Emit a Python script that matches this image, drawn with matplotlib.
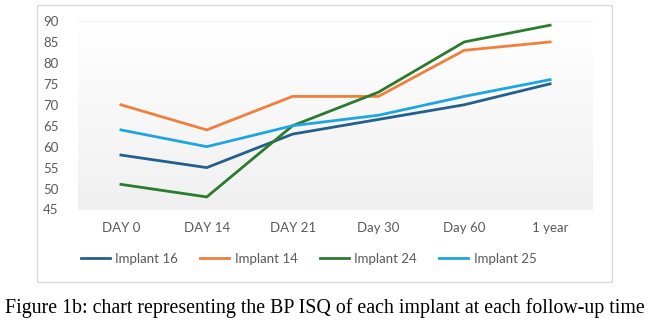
import numpy as np
import matplotlib
matplotlib.use("Agg")
import matplotlib.pyplot as plt
from matplotlib.patches import Rectangle

categories = ["DAY 0", "DAY 14", "DAY 21", "Day 30", "Day 60", "1 year"]
implant16 = [58, 55, 63, 66.5, 70, 75]
implant14 = [70, 64, 72, 72, 83, 85]
implant24 = [51, 48, 65, 73, 85, 89]
implant25 = [64, 60, 65, 67.5, 72, 76]
series_names = ["Implant 16", "Implant 14", "Implant 24", "Implant 25"]
colors = ["#245f8c", "#f07f3c", "#2a7b2e", "#1fa5e0"]
yticks = [45, 50, 55, 60, 65, 70, 75, 80, 85, 90]

W, H = 651, 322
fig = plt.figure(figsize=(W / 100, H / 100), dpi=100)
fig.patch.set_facecolor("white")

# chart border box
box = Rectangle((37 / W, 1 - 282 / H), (612 - 37) / W, (282 - 5) / H,
                transform=fig.transFigure, fill=False, edgecolor="#d9d9d9", linewidth=1.0)
fig.patches.append(box)

ax = fig.add_axes([78 / W, 1 - 209.5 / H, (593 - 78) / W, (209.5 - 21) / H])
x = np.arange(len(categories))
ax.set_xlim(-0.5, len(categories) - 0.5)
ax.set_ylim(45, 90)

# gradient background
grad = np.linspace(0, 1, 256).reshape(-1, 1)
ax.imshow(grad, extent=(-0.5, len(categories) - 0.5, 45, 90), aspect="auto",
          cmap=matplotlib.colors.LinearSegmentedColormap.from_list("g", ["#ffffff", "#f0f0f0"]),
          origin="upper", zorder=0)
ax.axhline(90, color="#f2f2f2", linewidth=0.8, zorder=1)

for vals, name, c in zip([implant16, implant14, implant24, implant25], series_names, colors):
    ax.plot(x, vals, color=c, linewidth=2.0, label=name, zorder=3, solid_joinstyle="miter")

ax.set_xticks(x)
ax.set_xticklabels(categories)
ax.set_yticks(yticks)
for s in ax.spines.values():
    s.set_visible(False)
ax.tick_params(length=0, colors="#595959", labelsize=9.5)
ax.tick_params(axis="y", pad=14)
ax.tick_params(axis="x", pad=9)
for lbl in ax.get_xticklabels() + ax.get_yticklabels():
    lbl.set_fontfamily("Lato")

leg = fig.legend(loc="center", bbox_to_anchor=(308.5 / W, 1 - 259 / H), ncol=4, frameon=False,
                 prop={"family": "Lato", "size": 9.5}, handlelength=2.2, handletextpad=0.4,
                 columnspacing=1.7)
for t in leg.get_texts():
    t.set_color("#595959")

fig.text(5 / W, 1 - 308 / H,
         "Figure 1b: chart representing the BP ISQ of each implant at each follow-up time",
         family="Liberation Serif", fontsize=14.3, color="black", va="center", ha="left")

fig.savefig("out.png", dpi=100, facecolor="white")
